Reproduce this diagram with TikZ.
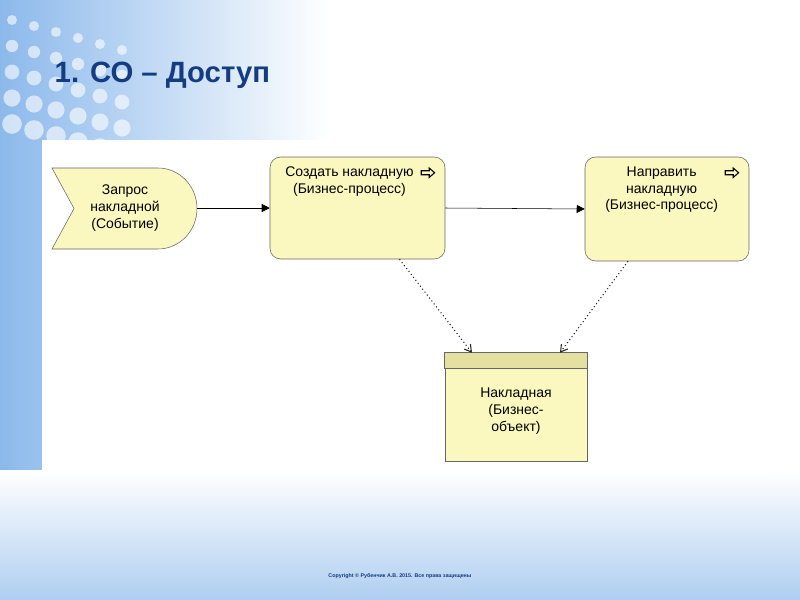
\documentclass[tikz,border=0pt]{standalone}
\usepackage{fontspec}
\setmainfont{Liberation Sans}
\usetikzlibrary{arrows.meta, positioning}
\definecolor{nodefill}{RGB}{250,248,190}
\definecolor{headfill}{RGB}{228,225,160}
\definecolor{titleblue}{RGB}{20,60,130}
\definecolor{bgblue}{RGB}{140,185,235}
\begin{document}
\begin{tikzpicture}[x=0.75pt, y=-0.75pt,
    proc/.style={draw=black!60, fill=nodefill, rounded corners=8pt, minimum width=175*0.75pt, minimum height=102*0.75pt, inner sep=0pt},
    obj/.style={draw=black!60, fill=nodefill, minimum width=142*0.75pt, minimum height=108*0.75pt, inner sep=0pt},
    lbl/.style={font=\fontsize{10.5pt}{12.5pt}\selectfont, align=center},
    flow/.style={-{Triangle[length=6pt, width=6pt]}, black},
    access/.style={dotted, line width=0.8pt, -{Straight Barb[length=5pt, width=6pt]}, black!85},
]
\useasboundingbox (0,0) rectangle (800,600);
% background
\fill[white] (0,0) rectangle (800,600);
\shade[left color=bgblue, right color=white] (0,0) rectangle (330,600);
\shade[top color=white, bottom color=bgblue!70] (0,470) rectangle (800,600);
\foreach \i in {0,...,5}
  \foreach \j in {0,...,4}
    \fill[white, opacity=0.6] (12+\i*22, 20+\j*26+\i*6) circle (5+\j*1.2);
% white panel
\fill[white] (42,140) rectangle (770,475);
% title
\node[anchor=west, font=\bfseries\fontsize{22pt}{26pt}\selectfont, text=titleblue] (title) at (50,75) {1. СО – Доступ};

% event
\coordinate (ev) at (125,208);
\draw[black!60, fill=nodefill] (52,168) -- (158,168) arc[start angle=-90, end angle=90, x radius=39, y radius=40.5] -- (52,249) -- (74,208.5) -- cycle;
\node[lbl] (event) at (ev) {Запрос\\накладной\\(Событие)};
\coordinate (evout) at (197,208);

% processes
\node[proc] (create) at (357.5,208) {};
\node[lbl, anchor=north] (createtxt) at ([yshift=-4pt, xshift=-6pt]create.north) {Создать накладную\\(Бизнес-процесс)};
\node[proc, minimum width=164*0.75pt, minimum height=104*0.75pt] (send) at (667,209) {};
\node[lbl, anchor=north] (sendtxt) at ([yshift=-4pt, xshift=-4pt]send.north) {Направить\\накладную\\(Бизнес-процесс)};
\foreach \p in {create, send}
  \draw[black, line width=0.8pt] ([xshift=-18pt, yshift=-12pt]\p.north east) ++(0,-1.5pt) -- ++(6pt,0) -- ++(0,-2pt) -- ++(4pt,3.5pt) -- ++(-4pt,3.5pt) -- ++(0,-2pt) -- ++(-6pt,0) -- cycle;

% object
\node[obj] (invoice) at (516,407) {};
\draw[black!60, fill=headfill] (invoice.north west) rectangle ([yshift=-16*0.75pt]invoice.north east);
\node[lbl] (invoicetxt) at ([yshift=-3pt]invoice.center) {Накладная\\(Бизнес-\\объект)};

% connectors
\draw[flow] (evout) -- (create.west);
\draw[flow] (create.east) -- (send.west);
\draw[access] ([xshift=42*0.75pt]create.south) -- ([xshift=-44*0.75pt]invoice.north);
\draw[access] ([xshift=-39*0.75pt]send.south) -- ([xshift=44*0.75pt]invoice.north);

% footer
\node[font=\bfseries\fontsize{4pt}{5pt}\selectfont, text=titleblue] (copy) at (400,576) {Copyright © Рубенчик А.В. 2015. Все права защищены};
\end{tikzpicture}
\end{document}
